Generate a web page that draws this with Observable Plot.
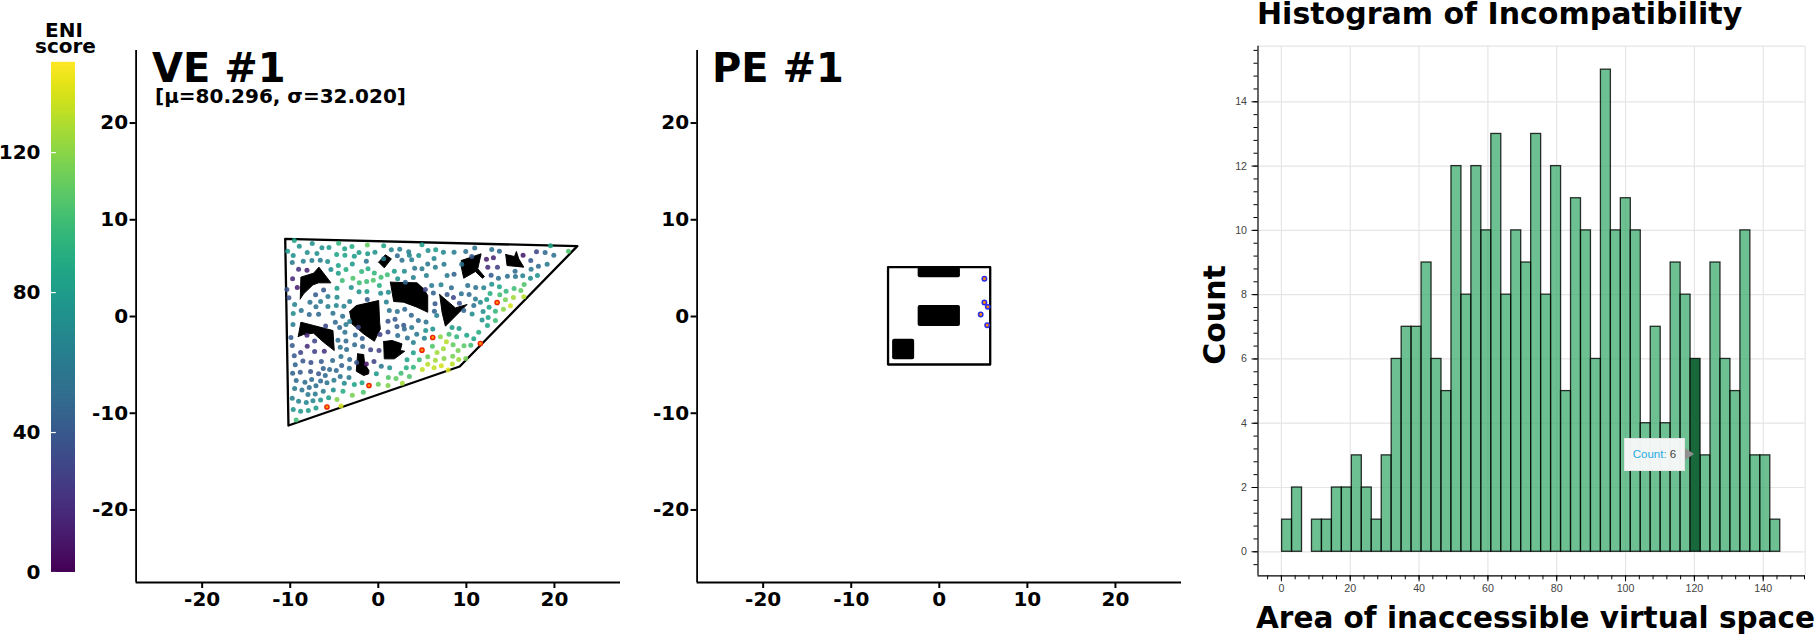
<!DOCTYPE html>
<html>
<head>
<meta charset="utf-8">
<script src="https://cdn.jsdelivr.net/npm/d3@7"></script>
<script src="https://cdn.jsdelivr.net/npm/@observablehq/plot@0.6"></script>
<style>
html,body{margin:0;padding:0;background:#fff;width:1817px;height:636px;overflow:hidden}
#root{position:relative;width:1817px;height:636px}
#root>svg{position:absolute;top:0;overflow:visible}
.t{position:absolute;white-space:nowrap;font-family:"DejaVu Sans";font-weight:bold;color:#000;line-height:.8}
</style>
</head>
<body>
<div id="root"></div>
<script>
// ---------- colour bar
const scoreMax = 145.6;
const scoreTicks = [0, 40, 80, 120];

// ---------- virtual environment (VE #1)
const veBoundary = [[-10.57,8.03],[22.6,7.27],[9.24,-5.17],[-10.2,-11.27],[-10.57,8.03]];
const veObstacles = [
 [[-8.86,1.82],[-8.79,4.07],[-7.35,4.48],[-6.74,5.10],[-5.38,3.48],[-6.78,3.48],[-7.42,3.27],[-8.48,2.34]],
 [[0.04,5.62],[0.80,6.38],[1.48,5.96],[0.68,5.03]],
 [[9.43,5.79],[11.67,6.48],[11.29,4.93],[12.05,4.13],[11.82,3.96],[11.03,4.65],[9.70,3.96],[9.43,5.10]],
 [[14.47,6.41],[15.46,6.2],[15.68,6.72],[15.95,5.96],[16.52,5.10],[14.62,5.27]],
 [[1.37,3.55],[4.40,3.48],[5.15,2.86],[5.61,2.17],[5.61,0.44],[4.40,0.96],[2.88,1.48],[1.75,1.55]],
 [[-3.25,0.51],[-2.50,1.13],[0.04,1.65],[0.15,-0.59],[0.23,-1.28],[-0.45,-2.56],[-1.66,-1.8],[-2.99,-0.76]],
 [[-9.09,-2.07],[-8.79,-0.59],[-7.35,-0.93],[-5.15,-1.45],[-5.0,-3.52],[-6.21,-2.66],[-7.35,-1.72],[-8.48,-1.86]],
 [[0.61,-2.59],[1.56,-2.48],[2.69,-2.83],[2.50,-3.52],[3.0,-3.59],[1.82,-4.38],[0.68,-4.38]],
 [[-2.35,-3.86],[-1.66,-3.93],[-1.55,-4.90],[-1.06,-5.59],[-1.10,-5.93],[-1.66,-6.10],[-2.50,-5.66]],
 [[6.97,2.27],[8.75,0.89],[10.08,1.24],[7.62,-1.0],[7.24,0.44]]
];
const vePoints = [
[-9.54,7.86,85],[-7.50,7.55,72],[-4.50,7.58,95],[-1.25,7.38,110],[0.61,7.31,85],[4.96,7.41,80],[19.55,7.31,85],[21.59,6.75,105],
[-10.30,6.75,78],[-8.97,7.27,75],[-6.40,7.10,72],[-5.60,7.13,80],[-3.82,7.0,85],[-2.99,7.24,90],[-2.19,6.62,80],[-1.21,6.48,78],[-0.38,6.65,75],[1.48,6.89,65],[2.43,6.96,62],[3.45,6.69,62],[5.65,6.82,72],[6.52,6.89,80],[7.39,6.65,68],[8.60,6.65,62],[9.93,6.72,55],[10.95,7.07,55],[12.88,6.93,55],[13.75,6.75,50],[17.96,6.69,30],[18.94,6.62,50],[19.93,6.34,55],[16.44,6.34,10],[13.07,6.07,15],[12.28,5.93,12],
[-9.66,6.31,72],[-8.07,6.62,72],[-6.97,6.51,72],[-4.73,6.41,85],[-3.79,6.34,85],[-2.72,6.24,80],[-1.36,5.72,55],[0.61,5.96,60],[2.16,6.27,50],[3.53,6.34,68],[4.59,6.31,75],[6.33,6.0,68],[10.61,6.2,40],[17.31,5.79,40],
[-8.52,5.72,62],[-9.77,5.58,60],[-7.54,5.79,62],[-6.59,5.82,62],[-5.75,5.69,72],[-4.54,5.27,85],[-2.95,5.44,78],[2.69,5.82,55],[3.79,5.86,62],[5.61,5.44,58],[7.46,5.41,60],[9.47,5.41,55],[18.18,5.2,50],[19.17,5.41,58],[15.53,4.69,50],[13.53,5.10,28],[12.43,5.10,18],[17.35,4.89,60],
[-9.05,4.89,20],[-8.10,4.79,12],[-9.73,3.89,18],[-9.20,3.0,12],[-10.38,2.79,38],[-10.15,1.93,38],
[-5.38,4.86,70],[-3.67,4.86,90],[-1.89,4.65,95],[-1.17,4.93,90],[-0.45,4.51,95],[1.03,4.31,100],[1.82,4.69,80],[2.96,4.69,70],[4.13,5.0,58],[4.96,4.93,60],[6.48,5.10,62],[-4.54,4.48,80],[7.81,4.24,60],[8.60,4.38,45],[12.81,4.27,40],[14.66,4.17,52],[15.57,4.13,55],[16.40,4.20,65],[17.28,3.96,70],[18.07,4.24,75],
[-4.09,3.72,100],[-2.88,3.96,105],[-2.16,3.48,100],[-1.32,3.62,100],[-0.57,3.75,105],[0.31,4.07,100],[2.20,3.89,75],[3.07,3.55,48],[3.98,4.03,62],[5.46,4.24,62],[13.64,3.96,52],
[0.12,3.20,90],[6.06,3.20,60],[7.12,3.27,65],[8.30,2.96,50],[10.15,3.20,55],[11.06,3.0,55],[11.97,2.96,65],[12.88,3.34,75],[13.75,3.07,85],[14.51,2.62,95],[15.42,2.89,100],[16.18,2.69,110],[16.56,3.31,105],
[-4.69,2.93,80],[-3.07,3.0,72],[-6.21,2.75,40],[-4.69,2.0,70],[-5.72,2.07,60],[-7.12,2.24,42],[-2.19,2.55,75],[-1.29,2.58,80],[0.27,2.41,70],[1.14,2.51,70],[5.34,2.79,30],[6.25,2.44,45],[7.81,2.27,40],[8.53,1.96,32],[9.43,2.34,55],[10.31,2.27,50],[11.03,1.82,60],[11.59,1.48,70],[12.31,1.75,80],[12.69,2.38,90],[13.79,2.24,100],[14.43,1.72,115],[15.34,1.96,125],[16.52,2.03,130],
[-9.50,1.24,65],[-7.76,1.48,55],[-6.55,1.55,60],[-7.08,1.0,55],[-5.72,1.03,62],[-4.77,1.13,68],[-3.90,1.07,65],[-3.25,1.55,62],[-1.25,1.75,42],[0.91,1.51,62],[6.44,1.31,40],[9.21,1.38,38],[10.84,1.13,55],[11.90,0.51,72],[12.58,0.96,85],[13.30,0.55,95],[14.21,0.75,120],[15.0,1.10,135],
[-9.66,0.31,70],[-8.75,0.62,55],[-7.84,0.20,50],[-6.78,0.24,50],[-5.15,0.34,55],[1.25,0.62,55],[2.16,0.51,55],[3.0,0.75,50],[6.37,0.55,45],[10.65,0.27,70],[9.70,0.62,48],
[-9.69,-0.83,62],[-4.05,0.03,55],[-3.25,-0.52,60],[-4.88,-0.59,50],[-5.98,-0.97,32],[-4.39,-1.14,50],[-3.67,-0.83,60],[-2.27,-1.11,32],[1.10,-0.49,38],[1.90,-0.28,42],[2.88,-0.90,40],[3.75,0.13,48],[2.12,-1.04,42],[4.55,-0.42,50],[5.42,-0.56,55],[6.63,0.10,62],[12.47,-0.11,85],[13.30,-0.42,100],[11.78,-0.35,75],[12.39,-0.93,85],[6.18,-1.28,75],[5.38,-1.45,75],[2.96,-1.28,50],[3.79,-1.14,60],[8.37,-1.14,80],[9.17,-1.25,80],
[-9.92,-2.17,42],[-8.10,-1.93,15],[-3.79,-1.62,55],[-2.61,-1.90,50],[-1.82,-2.28,42],[0.19,-1.86,28],[1.10,-1.59,35],[2.20,-1.97,52],[3.30,-2.21,52],[4.36,-1.83,58],[5.23,-2.24,62],[7.05,-2.10,120],[8.03,-1.83,102],[8.90,-2.10,95],[10.04,-1.93,85],[10.84,-2.31,85],[11.40,-1.62,90],
[-9.77,-3.0,42],[-8.07,-3.07,18],[-7.23,-2.52,30],[-4.58,-2.45,52],[-3.67,-2.52,50],[-2.69,-2.93,50],[-1.78,-3.10,48],[-0.87,-3.45,30],[0.08,-3.52,28],[3.98,-2.69,62],[6.14,-3.07,105],[7.73,-2.62,130],[8.49,-2.93,110],[9.73,-3.03,108],[10.50,-2.97,100],
[-9.54,-4.07,42],[-8.82,-3.72,30],[-7.23,-3.62,28],[-6.13,-3.59,22],[-4.32,-3.17,55],[-3.60,-3.41,52],[-4.24,-4.14,55],[-3.25,-4.45,50],[3.98,-3.76,82],[7.39,-3.34,125],[6.67,-3.72,125],[9.06,-3.52,115],
[-9.43,-5.0,45],[-8.56,-4.59,40],[-7.65,-4.76,35],[-6.47,-4.66,42],[-5.19,-4.55,50],[-4.16,-5.07,45],[-3.29,-5.34,55],[-2.46,-4.76,40],[-1.36,-4.90,8],[-0.49,-4.66,30],[0.34,-5.14,58],[1.29,-5.31,75],[3.26,-4.48,85],[4.66,-4.48,100],[5.61,-4.17,112],[6.48,-4.52,125],[7.46,-4.34,120],[8.45,-4.10,115],[9.13,-4.45,125],[9.93,-4.34,115],
[-9.73,-5.86,45],[-8.86,-5.76,42],[-7.69,-5.69,38],[-6.78,-5.93,40],[-6.25,-5.38,45],[-5.53,-5.48,50],[-4.77,-5.59,50],[-6.02,-6.10,50],[-4.32,-6.21,55],[-3.33,-6.31,60],[-0.22,-5.93,78],[3.18,-5.31,90],[3.98,-5.24,95],[5.61,-4.93,130],[6.33,-5.31,132],[7.16,-5.10,135],[8.41,-4.90,130],[5.0,-5.48,132],[7.92,-5.52,138],
[-9.32,-6.62,50],[-8.33,-6.79,52],[-7.57,-6.52,50],[-6.55,-6.66,50],[-7.08,-7.17,52],[-5.83,-6.86,55],[-5.04,-6.59,60],[-3.86,-6.90,70],[-2.72,-7.03,85],[-1.85,-6.86,85],[0.0,-7.0,112],[1.10,-7.14,118],[1.14,-6.31,105],[2.01,-6.42,110],[2.58,-5.86,100],[3.53,-6.21,105],[2.73,-6.90,125],
[-9.50,-7.45,58],[-8.67,-7.59,55],[-7.84,-7.34,52],[-7.99,-8.07,58],[-7.16,-8.0,60],[-6.25,-7.72,60],[-5.11,-7.59,72],[-4.01,-7.72,90],[-1.70,-7.83,105],[-2.95,-8.14,115],
[-9.77,-8.45,62],[-9.05,-8.76,65],[-8.18,-8.90,68],[-7.42,-8.72,68],[-6.55,-8.62,75],[-5.64,-8.41,82],[-4.69,-8.59,118],[-4.24,-9.24,135],[-7.08,-9.45,80],[-9.66,-9.62,75],[-8.82,-9.79,78],[-7.95,-9.72,80],[-9.32,-10.69,100]
];
const veRedPoints = [[13.49,1.44],[6.18,-2.17],[11.59,-2.79],[4.96,-3.48],[-1.06,-7.14],[-5.83,-9.35]];

// ---------- physical environment (PE #1)
const peBoundary = [[-5.82,5.1],[5.78,5.1],[5.78,-4.96],[-5.82,-4.96],[-5.82,5.1]];
const peObsLeft = [-2.4,-2.4,-5.3], peObsRight = [2.4,2.4,-2.8];
const peObsTop = [5.1,1.14,-2.35], peObsBottom = [4.0,-1.03,-4.48];
const peX = [5.12,5.12,5.5,4.7,5.44];
const peY = [3.9,1.45,1.0,0.2,-0.9];

// ---------- histogram
const histCounts = [1,2,0,1,1,2,2,3,2,1,3,6,7,7,9,6,5,12,8,12,10,13,8,10,9,13,8,12,5,11,10,6,15,10,11,10,4,7,4,9,8,6,3,9,6,5,10,3,3,1];
const histStart = 0.2, binWidth = 2.895;
const hoveredBin = 41;
const histXTicks = [0,20,40,60,80,100,120,140];
const histYTicks = [0,2,4,6,8,10,12,14];

const root = document.getElementById("root");
const font = "'DejaVu Sans', sans-serif";
const panelTicks = [-20,-10,0,10,20];
const dom = [-27.5,27.5];

function place(svg, left){ svg.style.left = left+"px"; root.appendChild(svg); }
function label(text, x, y, size, extra){
  const d = document.createElement("div"); d.className="t"; d.textContent=text;
  d.style.left=x+"px"; d.style.top=y+"px"; d.style.fontSize=size+"px";
  if(extra) Object.assign(d.style,extra);
  root.appendChild(d); return d;
}
function panelAxes(){
  return [
    Plot.axisX({ticks:panelTicks,tickFormat:d=>String(d),tickSize:6,tickPadding:3,fontSize:20,fontWeight:"bold",strokeWidth:2,label:null}),
    Plot.axisY({ticks:panelTicks,tickFormat:d=>String(d),tickSize:6,tickPadding:2,fontSize:20,fontWeight:"bold",strokeWidth:2,label:null}),
    Plot.ruleX([dom[0]],{stroke:"black",strokeWidth:1.8}),
    Plot.ruleY([dom[0]],{stroke:"black",strokeWidth:1.8})
  ];
}
const panelOpts = {width:520,height:636,marginLeft:35.6,marginRight:0,marginTop:50,marginBottom:54,
  x:{domain:dom},y:{domain:dom},style:{fontFamily:font,color:"black",background:"transparent",overflow:"visible"}};

// colour bar
const barSteps = d3.range(0,256).map(i=>i/256*scoreMax);
place(Plot.plot({
  width:100,height:636,marginLeft:51,marginRight:25,marginTop:62.5,marginBottom:64,
  x:{domain:[0,1],axis:null},y:{domain:[0,scoreMax],axis:null},
  color:{type:"linear",scheme:"viridis",domain:[0,scoreMax]},
  style:{fontFamily:font,color:"black",background:"transparent",overflow:"visible"},
  marks:[
    Plot.rect(barSteps,{x1:()=>0,x2:()=>1,y1:d=>d,y2:d=>d+scoreMax/256+0.2,fill:d=>d}),
    Plot.ruleY(scoreTicks,{x1:()=>0,x2:()=>0.2,stroke:"white",strokeWidth:1.2}),
    Plot.text(scoreTicks,{x:()=>0,y:d=>d,text:d=>String(d),dx:-11,textAnchor:"end",fontSize:20,fontWeight:"bold",fill:"black"})
  ]
}),0);
label("ENI",45,22,20,{width:40,textAlign:"center"});
label("score",35,38,20,{width:60,textAlign:"center"});

// VE panel
const veObsRows = veObstacles.flatMap((poly,id)=>[...poly,poly[0]].map(p=>({x:p[0],y:p[1],id})));
place(Plot.plot({...panelOpts,
  color:{type:"linear",scheme:"viridis",domain:[0,scoreMax]},
  marks:[
    ...panelAxes(),
    Plot.line(veObsRows,{x:"x",y:"y",z:"id",fill:"black",stroke:"black",strokeWidth:1,curve:"linear"}),
    Plot.line(veBoundary,{x:d=>d[0],y:d=>d[1],stroke:"black",strokeWidth:2.3,curve:"linear"}),
    Plot.dot(vePoints,{x:d=>d[0],y:d=>d[1],fill:d=>d[2],fillOpacity:0.88,r:2.5}),
    Plot.dot(veRedPoints,{x:d=>d[0],y:d=>d[1],fill:"#ff9500",stroke:"#f01e00",strokeWidth:1.4,r:2.1})
  ]
}),100);
label("VE #1",152,52,40);
label("[μ=80.296, σ=32.020]",155,88,20);

// PE panel
place(Plot.plot({...panelOpts,
  marks:[
    ...panelAxes(),
    Plot.rect(peObsLeft,{x1:peObsLeft,x2:peObsRight,y1:peObsBottom,y2:peObsTop,fill:"black",rx:2}),
    Plot.line(peBoundary,{x:d=>d[0],y:d=>d[1],stroke:"black",strokeWidth:2.3,curve:"linear"}),
    Plot.dot(peX,{x:peX,y:peY,fill:"#ff8c00",stroke:"#2a2ae8",strokeWidth:1.5,r:2.2})
  ]
}),661);
label("PE #1",712,52,40);

// histogram
const rows = histCounts.map((c,i)=>({x1:histStart+i*binWidth,x2:histStart+(i+1)*binWidth,c,i}));
const hx = [-6.8,152.2], hy = [-0.747,15.73];
const minorX = d3.range(-4,153,4);
const minorY = d3.range(-0.4,15.7,0.4);
place(Plot.plot({
  width:592,height:636,marginLeft:32.5,marginRight:12.3,marginTop:45.7,marginBottom:60.7,
  x:{domain:hx},y:{domain:hy},
  style:{fontFamily:"'Liberation Sans', sans-serif",color:"#444",background:"transparent",overflow:"visible"},
  marks:[
    Plot.ruleX(histXTicks,{stroke:"#e5e5e5",strokeWidth:1.2}),
    Plot.ruleY(histYTicks,{stroke:"#e5e5e5",strokeWidth:1.2}),
    Plot.ruleY([hy[1]],{stroke:"#e5e5e5",strokeWidth:1.2}),
    Plot.ruleX([hx[1]],{stroke:"#e5e5e5",strokeWidth:1.2}),
    Plot.rect(rows.filter(d=>d.c>0&&d.i!==hoveredBin),{x1:"x1",x2:"x2",y1:()=>0,y2:"c",fill:"#36a868",fillOpacity:0.73,stroke:"#000",strokeOpacity:0.8,strokeWidth:1.3}),
    Plot.rect(rows.filter(d=>d.i===hoveredBin),{x1:"x1",x2:"x2",y1:()=>0,y2:"c",fill:"#18683c",stroke:"#000",strokeOpacity:0.8,strokeWidth:1.3}),
    Plot.ruleX([hx[0]],{stroke:"#000",strokeWidth:1.2}),
    Plot.ruleY([hy[0]],{stroke:"#000",strokeWidth:1.2}),
    Plot.axisX({ticks:minorX,tickFormat:()=>"",tickSize:4,label:null,stroke:"#000",strokeWidth:1}),
    Plot.axisY({ticks:minorY,tickFormat:()=>"",tickSize:4,label:null,stroke:"#000",strokeWidth:1}),
    Plot.axisX({ticks:histXTicks,tickFormat:d=>String(d),tickSize:6,tickPadding:3,fontSize:10.67,label:null,stroke:"#000",strokeWidth:1}),
    Plot.axisY({ticks:histYTicks,tickFormat:d=>String(d),tickSize:6,tickPadding:5,fontSize:10.67,label:null,stroke:"#000",strokeWidth:1})
  ]
}),1225);
label("Histogram of Incompatibility",1257,2,30);
label("Area of inaccessible virtual space",1256,607,29.5);
label("Count",1215,315,30,{transform:"translate(-50%,-50%) rotate(-90deg)"});

// hover tooltip
const tip = document.createElement("div");
tip.style.cssText="position:absolute;left:1624px;top:438px;width:59px;height:31px;background:rgba(247,249,248,.97);border:1px solid #e5e5e5;font:11.5px 'Liberation Sans',sans-serif;line-height:31px;text-align:center;color:#444";
tip.innerHTML='<span style="color:#26aae1">Count:</span> 6';
root.appendChild(tip);
const arrow = document.createElement("div");
arrow.style.cssText="position:absolute;left:1685px;top:448px;width:0;height:0;border-left:9px solid #909090;border-top:6.5px solid transparent;border-bottom:6.5px solid transparent";
root.appendChild(arrow);
</script>
</body>
</html>
